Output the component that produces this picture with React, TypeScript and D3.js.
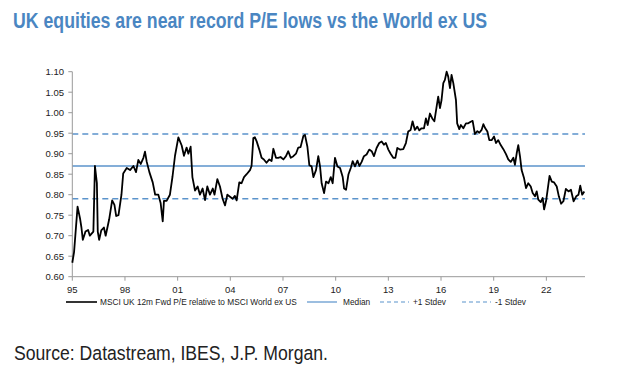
import React from "react";
import * as d3 from "d3";

const dates: number[] = [
  1995.0, 1995.1, 1995.3, 1995.44, 1995.52, 1995.6, 1995.75, 1995.9, 1996.0, 1996.2, 1996.29, 1996.4, 1996.45, 1996.53, 1996.65, 1996.8, 1996.9,
  1997.1, 1997.27, 1997.4, 1997.5, 1997.63, 1997.8, 1997.9, 1998.1, 1998.29, 1998.48, 1998.63, 1998.76, 1998.9, 1999.05, 1999.14, 1999.24,
  1999.39, 1999.58, 1999.72, 1999.9, 2000.03, 2000.15, 2000.22, 2000.37, 2000.56, 2000.71, 2000.85, 2001.04, 2001.23, 2001.36, 2001.51,
  2001.61, 2001.74, 2001.84, 2001.99, 2002.14, 2002.27, 2002.42, 2002.56, 2002.69, 2002.84, 2003.0, 2003.1, 2003.26, 2003.41, 2003.56,
  2003.7, 2003.83, 2003.98, 2004.13, 2004.26, 2004.36, 2004.51, 2004.64, 2004.78, 2004.93, 2005.12, 2005.21, 2005.31, 2005.4, 2005.5,
  2005.65, 2005.78, 2005.91, 2006.06, 2006.22, 2006.35, 2006.45, 2006.6, 2006.73, 2006.86, 2007.02, 2007.17, 2007.3, 2007.44, 2007.59,
  2007.74, 2007.87, 2008.0, 2008.16, 2008.25, 2008.39, 2008.5, 2008.63, 2008.73, 2008.88, 2009.01, 2009.11, 2009.2, 2009.34, 2009.45,
  2009.59, 2009.72, 2009.83, 2009.96, 2010.1, 2010.25, 2010.4, 2010.48, 2010.59, 2010.73, 2010.86, 2010.97, 2011.1, 2011.24, 2011.35,
  2011.48, 2011.61, 2011.76, 2011.91, 2012.05, 2012.18, 2012.33, 2012.48, 2012.62, 2012.75, 2012.86, 2013.0, 2013.13, 2013.28, 2013.4,
  2013.51, 2013.66, 2013.85, 2014.0, 2014.13, 2014.27, 2014.38, 2014.51, 2014.65, 2014.76, 2014.89, 2015.03, 2015.14, 2015.24, 2015.37,
  2015.5, 2015.62, 2015.75, 2015.84, 2015.94, 2016.03, 2016.13, 2016.22, 2016.32, 2016.41, 2016.51, 2016.6, 2016.7, 2016.85, 2016.92,
  2017.04, 2017.13, 2017.27, 2017.42, 2017.55, 2017.69, 2017.8, 2017.93, 2018.07, 2018.18, 2018.31, 2018.41, 2018.52, 2018.64, 2018.75,
  2018.88, 2019.02, 2019.13, 2019.26, 2019.4, 2019.55, 2019.7, 2019.83, 2019.97, 2020.12, 2020.21, 2020.31, 2020.4, 2020.5, 2020.59,
  2020.73, 2020.84, 2020.97, 2021.11, 2021.22, 2021.35, 2021.45, 2021.54, 2021.68, 2021.79, 2021.87, 2021.98, 2022.06, 2022.18, 2022.31,
  2022.44, 2022.59, 2022.71, 2022.84, 2022.97, 2023.11, 2023.26, 2023.4, 2023.55, 2023.7, 2023.83, 2023.93, 2024.04, 2024.16,
];

const values: number[] = [
  0.634, 0.66, 0.771, 0.742, 0.72, 0.69, 0.71, 0.714, 0.70, 0.71, 0.87, 0.828, 0.71, 0.69, 0.713, 0.72, 0.70,
  0.74, 0.786, 0.775, 0.748, 0.75, 0.80, 0.852, 0.865, 0.86, 0.87, 0.855, 0.885, 0.875, 0.89, 0.905, 0.88,
  0.855, 0.83, 0.80, 0.80, 0.78, 0.735, 0.785, 0.785, 0.80, 0.845, 0.895, 0.94, 0.92, 0.895, 0.915,
  0.90, 0.917, 0.843, 0.81, 0.82, 0.80, 0.815, 0.787, 0.82, 0.80, 0.815, 0.80, 0.838, 0.82, 0.79,
  0.774, 0.80, 0.795, 0.79, 0.797, 0.786, 0.83, 0.828, 0.843, 0.85, 0.86, 0.87, 0.938, 0.94, 0.93,
  0.91, 0.89, 0.886, 0.878, 0.886, 0.882, 0.912, 0.89, 0.89, 0.892, 0.886, 0.894, 0.906, 0.89, 0.894,
  0.90, 0.915, 0.916, 0.943, 0.946, 0.917, 0.872, 0.869, 0.843, 0.86, 0.894, 0.869, 0.828, 0.804, 0.832,
  0.828, 0.843, 0.828, 0.89, 0.869, 0.865, 0.843, 0.815, 0.812, 0.85, 0.865, 0.882, 0.869, 0.883, 0.87,
  0.88, 0.894, 0.898, 0.91, 0.906, 0.894, 0.914, 0.926, 0.93, 0.922, 0.926, 0.91, 0.90, 0.89, 0.89,
  0.914, 0.91, 0.911, 0.926, 0.954, 0.958, 0.979, 0.958, 0.966, 0.957, 0.962, 0.962, 0.986, 0.97, 0.998,
  0.986, 0.979, 1.015, 1.039, 1.011, 1.031, 1.072, 1.08, 1.10, 1.088, 1.06, 1.092, 1.072, 1.031, 0.974,
  0.96, 0.97, 0.962, 0.974, 0.974, 0.978, 0.98, 0.948, 0.955, 0.951, 0.958, 0.972, 0.962, 0.954, 0.933,
  0.933, 0.942, 0.926, 0.933, 0.921, 0.911, 0.899, 0.886, 0.88, 0.89, 0.873, 0.901, 0.921, 0.893, 0.86,
  0.84, 0.816, 0.828, 0.82, 0.804, 0.796, 0.808, 0.788, 0.782, 0.792, 0.764, 0.784, 0.808, 0.846, 0.832,
  0.83, 0.82, 0.796, 0.778, 0.784, 0.814, 0.808, 0.812, 0.784, 0.796, 0.80, 0.822, 0.80, 0.808,
];

const medianValue = 0.87;
const plusStdev = 0.948;
const minusStdev = 0.79;

const yTicks: number[] = [0.6, 0.65, 0.7, 0.75, 0.8, 0.85, 0.9, 0.95, 1.0, 1.05, 1.1];
const xTicks: number[] = [1995, 1998, 2001, 2004, 2007, 2010, 2013, 2016, 2019, 2022];

const title = "UK equities are near record P/E lows vs the World ex US";
const source = "Source: Datastream, IBES, J.P. Morgan.";
const legendLabels: string[] = [
  "MSCI UK 12m Fwd P/E relative to MSCI World ex US",
  "Median",
  "+1 Stdev",
  "-1 Stdev",
];

const BLUE = "#5b93cb";
const FONT = "'Liberation Sans', Arial, sans-serif";

export default function App() {
  const W = 640;
  const H = 377;
  const x = d3.scaleLinear().domain([1995, 2024.2]).range([72.3, 585]);
  const y = d3.scaleLinear().domain([0.6, 1.1]).range([276.7, 71.7]);

  const pts: [number, number][] = dates.map((d, i) => [d, values[i]]);
  const line = d3
    .line<[number, number]>()
    .x((d) => x(d[0]))
    .y((d) => y(d[1]))
    .curve(d3.curveLinear);

  const [x0, x1] = x.range();
  const [yb] = y.range();

  const ly = 302;
  const legend = [
    { x1: 66, x2: 97, tx: 100, stroke: "#000", dash: undefined as string | undefined, sw: 1.6 },
    { x1: 307, x2: 337, tx: 343, stroke: BLUE, dash: undefined, sw: 1.2 },
    { x1: 380, x2: 409, tx: 413, stroke: BLUE, dash: "4,3", sw: 1.2 },
    { x1: 462, x2: 491, tx: 495, stroke: BLUE, dash: "4,3", sw: 1.2 },
  ];

  return (
    <svg width={W} height={H} style={{ position: "absolute", left: 0, top: 0, background: "#fff" }}>
      <rect x={0} y={0} width={W} height={H} fill="#fff" />
      <text
        x={13}
        y={28}
        fill="#4a86c2"
        fontFamily={FONT}
        fontWeight="bold"
        fontSize={22}
        textLength={474}
        lengthAdjust="spacingAndGlyphs"
      >
        {title}
      </text>

      <line x1={x0} x2={x1} y1={y(medianValue)} y2={y(medianValue)} stroke={BLUE} strokeWidth={1.5} />
      <line x1={x0} x2={x1} y1={y(plusStdev)} y2={y(plusStdev)} stroke={BLUE} strokeWidth={1.5} strokeDasharray="6,4" />
      <line x1={x0} x2={x1} y1={y(minusStdev)} y2={y(minusStdev)} stroke={BLUE} strokeWidth={1.5} strokeDasharray="6,4" />

      <line x1={x0} x2={x0} y1={y(1.1)} y2={yb} stroke="#999" strokeWidth={1} />
      <line x1={x0} x2={x1} y1={yb} y2={yb} stroke="#999" strokeWidth={1} />
      {yTicks.map((t) => (
        <g key={t}>
          <line x1={x0 - 4} x2={x0} y1={y(t)} y2={y(t)} stroke="#999" />
          <text x={64} y={y(t) + 3.3} textAnchor="end" fontFamily={FONT} fontSize={9.5} fill="#222">
            {t.toFixed(2)}
          </text>
        </g>
      ))}
      {xTicks.map((t) => (
        <g key={t}>
          <line x1={x(t)} x2={x(t)} y1={yb} y2={yb + 4} stroke="#999" />
          <text x={x(t)} y={yb + 16} textAnchor="middle" fontFamily={FONT} fontSize={9.5} fill="#222">
            {String(t % 100).padStart(2, "0")}
          </text>
        </g>
      ))}

      <path d={line(pts) || ""} fill="none" stroke="#000" strokeWidth={1.8} strokeLinejoin="round" />

      {legend.map((l, i) => (
        <g key={i}>
          <line x1={l.x1} x2={l.x2} y1={ly} y2={ly} stroke={l.stroke} strokeWidth={l.sw} strokeDasharray={l.dash} />
          <text x={l.tx} y={ly + 3} fontFamily={FONT} fontSize={8.3} fill="#222">
            {legendLabels[i]}
          </text>
        </g>
      ))}

      <text
        x={14}
        y={360}
        fontFamily={FONT}
        fontSize={20.5}
        fill="#222"
        textLength={314}
        lengthAdjust="spacingAndGlyphs"
      >
        {source}
      </text>
    </svg>
  );
}
